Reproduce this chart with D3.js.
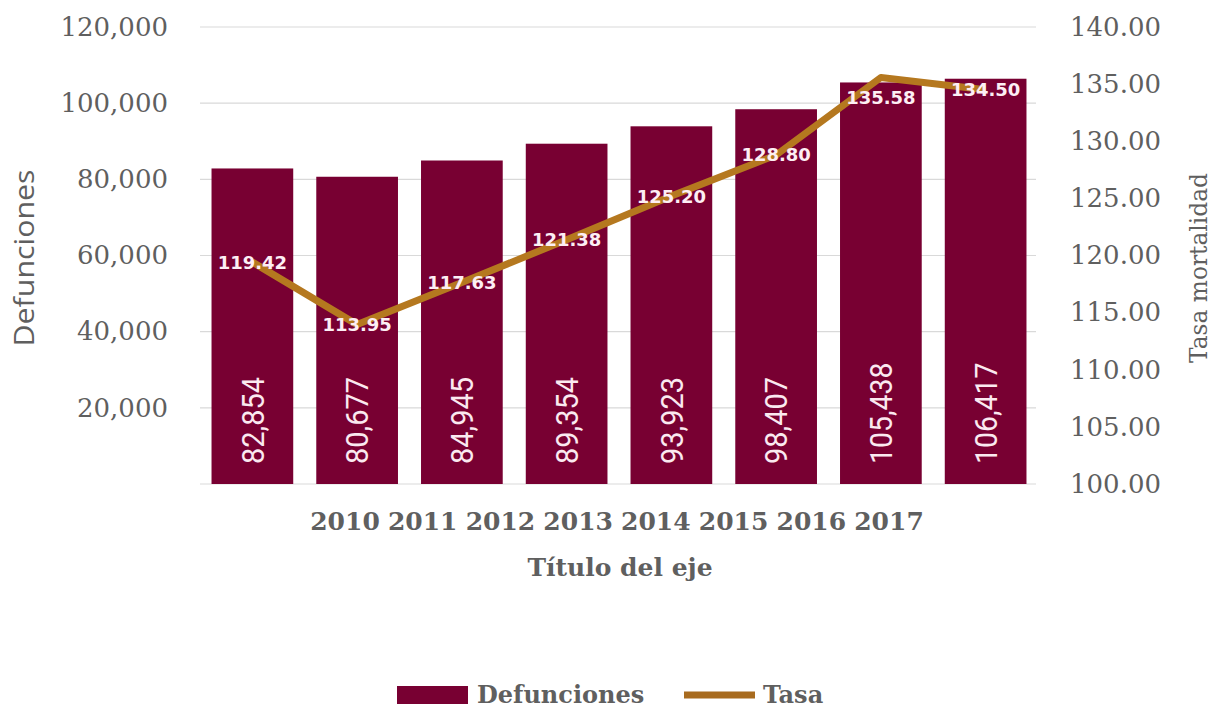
<!DOCTYPE html>
<html>
<head>
<meta charset="utf-8">
<script src="https://cdn.jsdelivr.net/npm/d3@7"></script>
<style>
    body { margin: 0; background: #fff; }
    svg { display: block; }
</style>
</head>
<body>
<svg id="chart" width="1220" height="710"></svg>
<script>
// data
const years = ["2010", "2011", "2012", "2013", "2014", "2015", "2016", "2017"];
const defunciones = [82854, 80677, 84945, 89354, 93923, 98407, 105438, 106417];
const tasa = [119.42, 113.95, 117.63, 121.38, 125.20, 128.80, 135.58, 134.50];
const leftTicks = [20000, 40000, 60000, 80000, 100000, 120000];
const rightTicks = [100, 105, 110, 115, 120, 125, 130, 135, 140];
const tasaLabelBelow = ["2016"];

const barColor = "#780032";
const lineColor = "#b5781f";
const textGray = "#5f5f5f";
const serif = "'DejaVu Serif', serif";

const svg = d3.select("#chart");

const margin = {top: 27, bottom: 484, left: 200, right: 1036};

const xScale = d3.scaleBand()
    .domain(years)
    .range([margin.left, 1038])
    .paddingInner(0.22)
    .paddingOuter(0.11);

const yLeft = d3.scaleLinear()
    .domain([0, 120000])
    .range([margin.bottom, margin.top]);

const yRight = d3.scaleLinear()
    .domain([100, 140])
    .range([margin.bottom, margin.top]);

// gridlines
svg.append("g")
    .selectAll("line")
    .data([0].concat(leftTicks))
    .join("line")
    .attr("x1", margin.left)
    .attr("x2", margin.right)
    .attr("y1", d => yLeft(d))
    .attr("y2", d => yLeft(d))
    .attr("stroke", "#d9d9d9")
    .attr("stroke-width", 1.2);

// left axis
const leftAxis = svg.append("g")
    .attr("transform", `translate(168,0)`)
    .call(d3.axisLeft(yLeft).tickValues(leftTicks).tickSize(0).tickPadding(0)
        .tickFormat(d3.format(",")));
leftAxis.select(".domain").remove();
leftAxis.selectAll("text")
    .attr("fill", textGray)
    .style("font-family", serif)
    .style("font-size", "26px");

// right axis
const rightAxis = svg.append("g")
    .attr("transform", `translate(1070,0)`)
    .call(d3.axisRight(yRight).tickValues(rightTicks).tickSize(0).tickPadding(0)
        .tickFormat(d3.format(".2f")));
rightAxis.select(".domain").remove();
rightAxis.selectAll("text")
    .attr("fill", textGray)
    .style("font-family", serif)
    .style("font-size", "26px");

// bars
svg.append("g")
    .selectAll("rect")
    .data(years)
    .join("rect")
    .attr("x", d => xScale(d))
    .attr("width", xScale.bandwidth())
    .attr("y", (d, i) => yLeft(defunciones[i]))
    .attr("height", (d, i) => yLeft(0) - yLeft(defunciones[i]))
    .attr("fill", barColor);

// bar value labels (rotated)
svg.append("g")
    .selectAll("text")
    .data(years)
    .join("text")
    .attr("transform", d => `translate(${xScale(d) + xScale.bandwidth() / 2},${yLeft(0) - 20}) rotate(-90)`)
    .attr("dy", "0.36em")
    .attr("text-anchor", "start")
    .attr("fill", "#fbe9f0")
    .style("font-family", "Roboto, 'Open Sans', sans-serif")
    .style("font-size", "31px")
    .text((d, i) => d3.format(",")(defunciones[i]))
    .each(function () {
        const t = d3.select(this);
        t.attr("textLength", t.text().length * 14.5).attr("lengthAdjust", "spacingAndGlyphs");
    });

// rate line
const line = d3.line()
    .x((d, i) => xScale(years[i]) + xScale.bandwidth() / 2)
    .y(d => yRight(d));

svg.append("path")
    .datum(tasa)
    .attr("d", line)
    .attr("fill", "none")
    .attr("stroke", lineColor)
    .attr("stroke-width", 7)
    .attr("stroke-linejoin", "round");

// rate labels
svg.append("g")
    .selectAll("text")
    .data(years)
    .join("text")
    .attr("x", d => xScale(d) + xScale.bandwidth() / 2)
    .attr("y", (d, i) => yRight(tasa[i]) + (tasaLabelBelow.includes(d) ? 20 : 0))
    .attr("dy", "0.36em")
    .attr("text-anchor", "middle")
    .attr("fill", "#fdeef4")
    .style("font-family", "'DejaVu Sans', sans-serif")
    .style("font-weight", "bold")
    .style("font-size", "18px")
    .text((d, i) => d3.format(".2f")(tasa[i]));

// year labels, packed under the plot like the original
const yearScale = d3.scalePoint()
    .domain(years)
    .range([345, 889]);

svg.append("g")
    .selectAll("text")
    .data(years)
    .join("text")
    .attr("x", d => yearScale(d))
    .attr("y", 530)
    .attr("text-anchor", "middle")
    .attr("fill", textGray)
    .style("font-family", serif)
    .style("font-weight", "bold")
    .style("font-size", "25px")
    .text(d => d);

// axis titles
svg.append("text")
    .attr("x", 620)
    .attr("y", 576)
    .attr("text-anchor", "middle")
    .attr("fill", textGray)
    .style("font-family", serif)
    .style("font-weight", "bold")
    .style("font-size", "25px")
    .text("Título del eje");

svg.append("text")
    .attr("transform", "translate(25,258) rotate(-90)")
    .attr("dy", "0.35em")
    .attr("text-anchor", "middle")
    .attr("fill", textGray)
    .attr("textLength", 177)
    .attr("lengthAdjust", "spacingAndGlyphs")
    .style("font-family", "'Open Sans', sans-serif")
    .style("font-size", "27px")
    .text("Defunciones");

svg.append("text")
    .attr("transform", "translate(1198,268) rotate(-90)")
    .attr("dy", "0.35em")
    .attr("text-anchor", "middle")
    .attr("fill", textGray)
    .attr("textLength", 190)
    .attr("lengthAdjust", "spacingAndGlyphs")
    .style("font-family", serif)
    .style("font-size", "25px")
    .text("Tasa mortalidad");

// legend
const legend = svg.append("g");
legend.append("rect")
    .attr("x", 397).attr("y", 686)
    .attr("width", 71).attr("height", 18)
    .attr("fill", barColor);
legend.append("text")
    .attr("x", 477).attr("y", 703)
    .attr("fill", textGray)
    .style("font-family", serif)
    .style("font-weight", "bold")
    .style("font-size", "24px")
    .text("Defunciones");
legend.append("line")
    .attr("x1", 684).attr("x2", 755)
    .attr("y1", 695).attr("y2", 695)
    .attr("stroke", "#a86b1f")
    .attr("stroke-width", 7);
legend.append("text")
    .attr("x", 763).attr("y", 703)
    .attr("fill", textGray)
    .style("font-family", serif)
    .style("font-weight", "bold")
    .style("font-size", "24px")
    .text("Tasa");
</script>
</body>
</html>
